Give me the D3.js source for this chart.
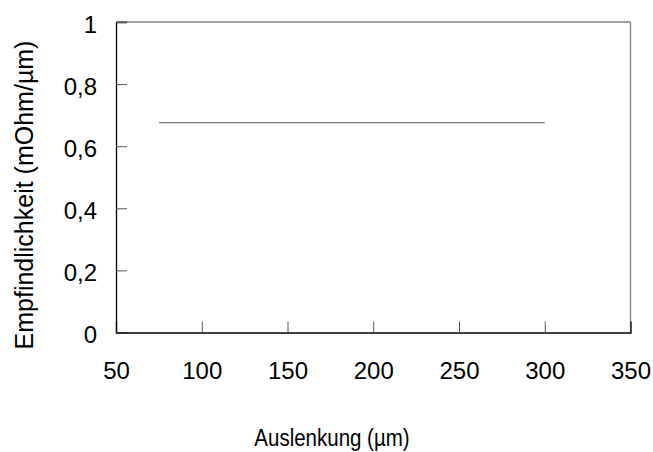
<!DOCTYPE html>
<html><head><meta charset="utf-8">
<script src="https://cdn.jsdelivr.net/npm/d3@7"></script>
<style>body{margin:0;background:#fff}svg{display:block}text{font-family:"Liberation Sans",Arial,sans-serif;fill:#000}</style>
</head><body>
<svg id="c" width="653" height="452"></svg>
<script>
const xValues = [75, 300];
const yValues = [0.676, 0.676];
const xTicks = [50, 100, 150, 200, 250, 300, 350];
const yTicks = [0, 0.2, 0.4, 0.6, 0.8, 1];
const xTitle = "Auslenkung (µm)";
const yTitle = "Empfindlichkeit (mOhm/µm)";

const svg = d3.select("#c");
const L = 116, R = 630.5, T = 22, B = 332.5;
const x = d3.scaleLinear().domain([50, 350]).range([L, R]);
const y = d3.scaleLinear().domain([0, 1]).range([B, T]);
const fmt = d => String(d).replace(".", ",");

// frame: top/right gray
svg.append("line").attr("x1", L).attr("x2", R).attr("y1", T).attr("y2", T).attr("stroke", "#808080").attr("stroke-width", 1.3);
svg.append("line").attr("x1", R).attr("x2", R).attr("y1", T).attr("y2", B).attr("stroke", "#808080").attr("stroke-width", 1.3);

// x axis (ticks inward)
const gx = svg.append("g").attr("transform", `translate(0,${B})`)
  .call(d3.axisBottom(x).tickValues(xTicks).tickSize(-11).tickFormat(d => d));
gx.select(".domain").attr("stroke", "#000").attr("stroke-width", 1.3);
gx.selectAll(".tick line").attr("stroke", "#555");
gx.selectAll(".tick text").attr("font-size", 24).attr("y", 46).attr("dy", 0);

// y axis
const gy = svg.append("g").attr("transform", `translate(${L},0)`)
  .call(d3.axisLeft(y).tickValues(yTicks).tickSize(-11).tickPadding(19).tickFormat(fmt));
gy.select(".domain").attr("stroke", "#000").attr("stroke-width", 1.3);
gy.selectAll(".tick line").attr("stroke", "#555");
gy.selectAll(".tick text").attr("font-size", 24).attr("dy", 10);

// data line
const line = d3.line().x((d, i) => x(xValues[i])).y(d => y(d));
svg.append("path").datum(yValues).attr("d", line).attr("fill", "none").attr("stroke", "#808080").attr("stroke-width", 1.3);

// titles
svg.append("text").attr("transform", "translate(332,446) scale(1,1.15)").attr("text-anchor", "middle").attr("font-size", 20.5).text(xTitle);
svg.append("text").attr("transform", "translate(33,195) rotate(-90)").attr("text-anchor", "middle").attr("font-size", 25).text(yTitle);
</script>
</body></html>
